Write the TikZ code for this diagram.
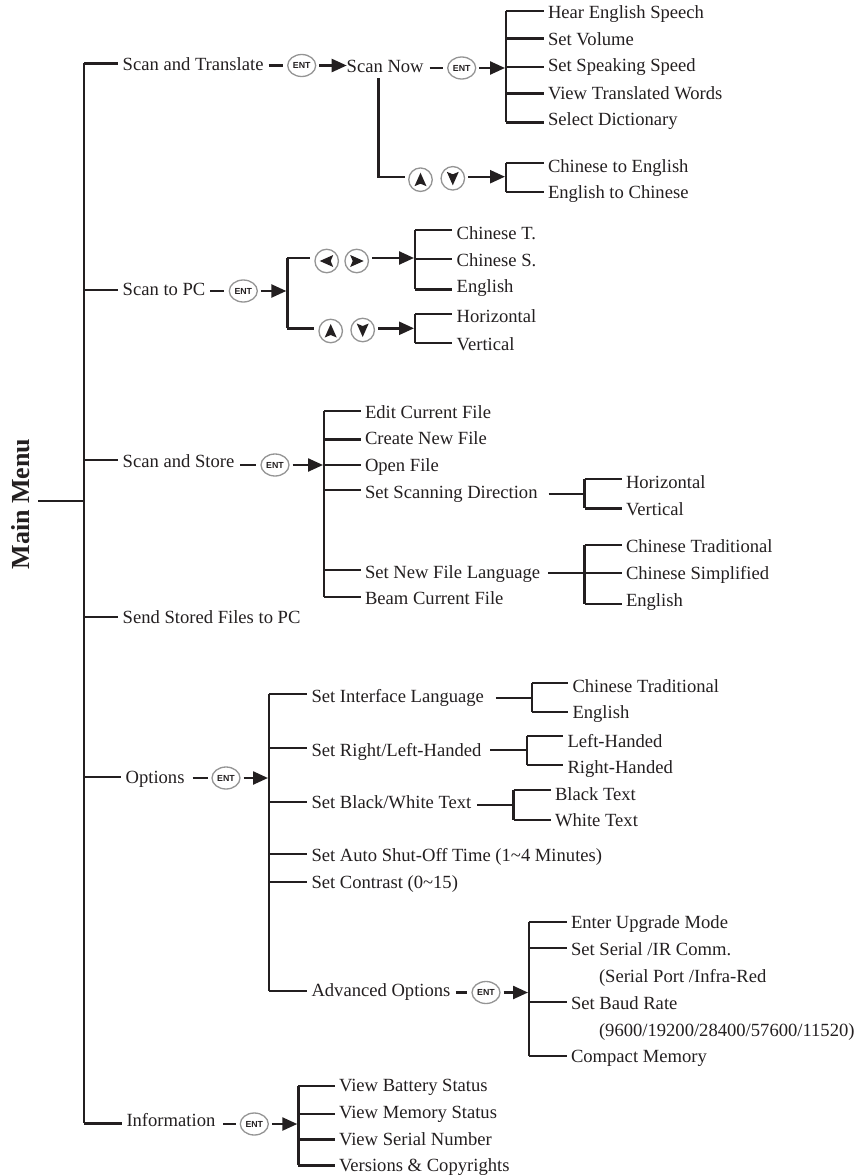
\documentclass[tikz,border=0pt]{standalone}
\usepackage{fontspec}
\setmainfont{Liberation Serif}
\newfontfamily\entfont{Liberation Sans}
\usetikzlibrary{arrows.meta,shapes.geometric,calc}
\definecolor{ink}{HTML}{231F20}
\tikzset{
  lab/.style={inner sep=0pt,outer sep=0pt,anchor=base west,font=\fontsize{18.6pt}{20pt}\selectfont,text=ink},
  link/.style={draw=ink,line width=2.4pt},
  buss/.style={draw=ink,line width=2.9pt,line cap=square},
  arr/.style={draw=ink,line width=2.4pt,-{Triangle[length=15pt,width=13pt]},shorten >=1pt,shorten <=3pt},
  ent/.style={ellipse,draw=black!42,line width=1.3pt,minimum width=28pt,minimum height=22pt,inner sep=0pt,font=\entfont\bfseries\fontsize{8.8pt}{9pt}\selectfont,text=ink},
  key/.style={circle,draw=black!42,line width=1.3pt,minimum size=23.5pt,inner sep=0pt}
}
% leaf: bus, name, text x, branch y, baseline y, text
\newcommand{\lf}[6]{\node[lab] (#2) at (#3,#5) {#6}; \coordinate (#2J) at (#3,#4); \draw[link,shorten >=4.5pt] (#2J -| #1) -- (#2J);}
% bus: name, x, top y, bottom y
\newcommand{\bs}[4]{\coordinate (#1) at (#2,#3); \coordinate (#1e) at (#2,#4); \draw[buss] (#1) -- (#1e);}
% key icon: name, x, y, rotation
\newcommand{\icn}[4]{\node[key] (#1) at (#2,#3) {}; \fill[ink,rotate around={#4:(#1.center)}] ($(#1.center)+(0,7)$) -- ($(#1.center)+(-6,-6.5)$) -- ($(#1.center)+(0,-4)$) -- ($(#1.center)+(6,-6.5)$) -- cycle;}
\begin{document}
\begin{tikzpicture}[x=1pt,y=-1pt]
\useasboundingbox (0,0) rectangle (861,1175);
% Main
\node[rotate=90,font=\bfseries\fontsize{26pt}{28pt}\selectfont,text=ink,inner sep=0pt] (mm) at (21,504) {Main Menu};
\bs{B0}{84}{63.3}{1123.3}
\coordinate (mstub) at (38,501);
\draw[link] (mstub) -- (mstub -| B0);
\lf{B0}{st}{122.7}{63.3}{70}{Scan and Translate}
\lf{B0}{sp}{122.7}{290}{295}{Scan to PC}
\lf{B0}{ss}{122.7}{460}{467}{Scan and Store}
\lf{B0}{sf}{122.7}{617}{623}{Send Stored Files to PC}
\lf{B0}{op}{125.6}{777}{783}{Options}
\lf{B0}{inf}{126.5}{1123.3}{1126.7}{Information}
% Scan and Translate
\node[ent] (e1) at (301.7,65.5) {ENT};
\draw[link,shorten <=5pt,shorten >=4.5pt] (st.east |- e1.west) -- (e1.west);
\node[lab] (sn) at (346.7,72) {Scan Now};
\draw[arr,shorten >=0pt] (e1.east) -- (sn.west |- e1.east);
\node[ent] (e2) at (461.7,68) {ENT};
\draw[link,shorten <=6pt,shorten >=4.5pt] (sn.east |- e2.west) -- (e2.west);
\bs{B1}{506}{10.7}{122.3}
\draw[arr] (e2.east) -- (e2.east -| B1);
\lf{B1}{a1}{548}{10.7}{19}{Hear English Speech}
\lf{B1}{a2}{548}{38.3}{45.7}{Set Volume}
\lf{B1}{a3}{548}{66.7}{71.7}{Set Speaking Speed}
\lf{B1}{a4}{548}{93.3}{99}{View Translated Words}
\lf{B1}{a5}{548}{122.3}{125.7}{Select Dictionary}
\icn{u1}{420.5}{179.7}{180}
\icn{d1}{452.8}{178.3}{0}
\coordinate (snc) at (378.3,78);
\coordinate (snj) at (378.3,176.7);
\draw[link,shorten >=3.5pt] (snc) -- (snj) -- (u1.west |- snj);
\bs{B2}{506}{162.7}{192}
\coordinate (B2m) at (506,176.7);
\draw[arr] (d1.east |- B2m) -- (B2m);
\lf{B2}{b1}{548}{162.7}{172}{Chinese to English}
\lf{B2}{b2}{548}{192}{198}{English to Chinese}
% Scan to PC
\node[ent] (e3) at (243.3,291) {ENT};
\draw[link,shorten <=5pt,shorten >=4.5pt] (sp.east |- e3.west) -- (e3.west);
\bs{B3}{287.3}{257.7}{328.3}
\draw[arr] (e3.east) -- (e3.east -| B3);
\icn{l1}{326.7}{261}{-90}
\icn{r1}{356.7}{261}{90}
\draw[link,shorten >=4pt] (B3) -- (l1.west |- B3);
\bs{B4}{415}{230}{289.3}
\coordinate (B4m) at (415,258);
\draw[arr] (r1.east |- B4m) -- (B4m);
\lf{B4}{c1}{456.7}{230}{239}{Chinese T.}
\lf{B4}{c2}{456.7}{259}{266}{Chinese S.}
\lf{B4}{c3}{456.7}{289.3}{292}{English}
\icn{u2}{330.7}{331}{180}
\icn{d2}{362.7}{330}{0}
\draw[link,shorten >=4pt] (B3e) -- (u2.west |- B3e);
\bs{B5}{415}{314}{342.7}
\coordinate (B5m) at (415,328.3);
\draw[arr] (d2.east |- B5m) -- (B5m);
\lf{B5}{c4}{456.7}{314}{322.7}{Horizontal}
\lf{B5}{c5}{456.7}{342.7}{350}{Vertical}
% Scan and Store
\node[ent] (e4) at (275,465) {ENT};
\draw[link,shorten <=6pt,shorten >=4pt] (ss.east |- e4.west) -- (e4.west);
\bs{B6}{324}{410.7}{597}
\draw[arr] (e4.east) -- (e4.east -| B6);
\lf{B6}{d1a}{365}{410.7}{418}{Edit Current File}
\lf{B6}{d2a}{365}{439.3}{444}{Create New File}
\lf{B6}{d3a}{365}{465}{471}{Open File}
\lf{B6}{d4a}{365}{490}{498}{Set Scanning Direction}
\lf{B6}{d5a}{365}{570}{578}{Set New File Language}
\lf{B6}{d6a}{365}{597}{604}{Beam Current File}
\bs{B7}{584.5}{479}{508.3}
\coordinate (B7m) at (584.5,494);
\draw[link,shorten <=11pt] (d4a.east |- B7m) -- (B7m);
\lf{B7}{g1}{626}{479}{488}{Horizontal}
\lf{B7}{g2}{626}{508.3}{515}{Vertical}
\bs{B8}{584.5}{545}{604}
\lf{B8}{h1}{626}{545}{552}{Chinese Traditional}
\lf{B8}{h2}{626}{573}{579}{Chinese Simplified}
\lf{B8}{h3}{626}{604}{606}{English}
\draw[link,shorten <=8pt] (d5a.east |- h2J) -- (h2J -| B8);
% Options
\node[ent] (e5) at (226,778) {ENT};
\draw[link,shorten <=8pt,shorten >=3.5pt] (op.east |- e5.west) -- (e5.west);
\bs{B9}{269}{694}{991}
\draw[arr] (e5.east) -- (e5.east -| B9);
\lf{B9}{i1}{311.5}{694}{702}{Set Interface Language}
\lf{B9}{i2}{311.5}{748}{756}{Set Right/Left-Handed}
\lf{B9}{i3}{311.5}{802}{808}{Set Black/White Text}
\lf{B9}{i4}{311.5}{854}{861}{Set Auto Shut-Off Time (1\textasciitilde 4 Minutes)}
\lf{B9}{i5}{311.5}{882}{888}{Set Contrast (0\textasciitilde 15)}
\lf{B9}{i6}{311.5}{991}{996}{Advanced Options}
\bs{B10}{532}{683}{712}
\coordinate (B10m) at (532,698);
\draw[link,shorten <=12pt] (i1.east |- B10m) -- (B10m);
\lf{B10}{j1}{572.5}{683}{692}{Chinese Traditional}
\lf{B10}{j2}{572.5}{712}{718}{English}
\bs{B11}{527}{736}{765}
\coordinate (B11m) at (527,750);
\draw[link,shorten <=9pt] (i2.east |- B11m) -- (B11m);
\lf{B11}{k1}{567.5}{736}{747}{Left-Handed}
\lf{B11}{k2}{567.5}{765}{773}{Right-Handed}
\bs{B12}{513.6}{790}{820}
\coordinate (B12m) at (513.6,805);
\draw[link,shorten <=6pt] (i3.east |- B12m) -- (B12m);
\lf{B12}{m1}{555}{790}{800}{Black Text}
\lf{B12}{m2}{555}{820}{826}{White Text}
\node[ent] (e6) at (486,992.5) {ENT};
\draw[link,shorten <=5.5pt,shorten >=4pt] (i6.east |- e6.west) -- (e6.west);
\bs{B13}{529}{922}{1056}
\draw[arr] (e6.east) -- (e6.east -| B13);
\lf{B13}{n1}{571}{922}{928}{Enter Upgrade Mode}
\lf{B13}{n2}{571}{948}{955}{Set Serial /IR Comm.}
\node[lab] (n3) at (599,982) {(Serial Port /Infra-Red};
\lf{B13}{n4}{571}{1002}{1009}{Set Baud Rate}
\node[lab] (n5) at (599,1036) {(9600/19200/28400/57600/11520)};
\lf{B13}{n6}{571}{1056}{1062}{Compact Memory}
% Information
\node[ent] (e7) at (254.3,1124) {ENT};
\draw[link,shorten <=8pt,shorten >=4pt] (inf.east |- e7.west) -- (e7.west);
\bs{B14}{298.3}{1086}{1165.3}
\draw[arr] (e7.east) -- (e7.east -| B14);
\lf{B14}{o1}{339}{1086}{1091.7}{View Battery Status}
\lf{B14}{o2}{339}{1114}{1118.3}{View Memory Status}
\lf{B14}{o3}{339}{1139.3}{1145}{View Serial Number}
\lf{B14}{o4}{339}{1165.3}{1171}{Versions \& Copyrights}
\end{tikzpicture}
\end{document}
